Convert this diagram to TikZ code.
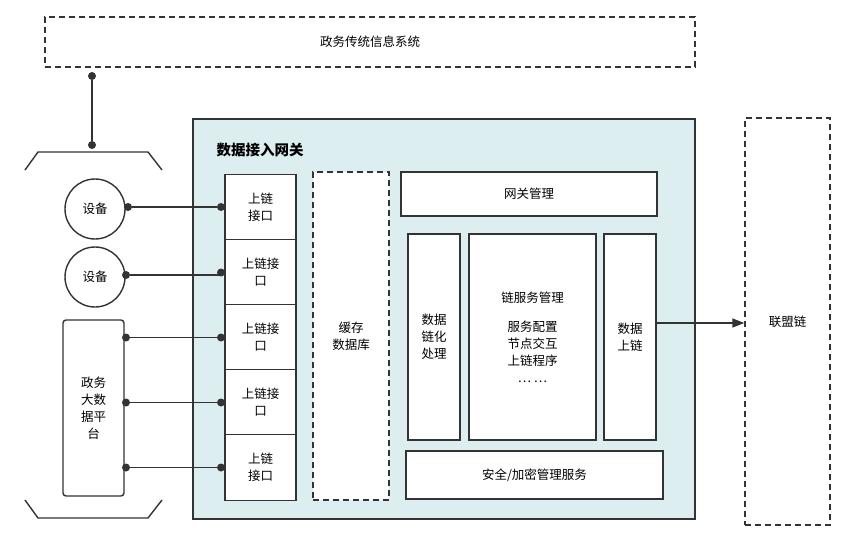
\documentclass[tikz,border=0pt]{standalone}
\usepackage{fontspec}
\setmainfont{Noto Sans CJK SC}
\usetikzlibrary{arrows.meta}
\definecolor{gwfill}{RGB}{221,238,240}
\begin{document}
\begin{tikzpicture}[x=1pt,y=-1pt,
 line/.style={draw=black!80,line width=1.4pt},
 box/.style={draw=black!80,line width=1.4pt,fill=white,align=center,font=\fontsize{12.5}{17}\selectfont,inner sep=0pt},
 dbox/.style={draw=black!80,line width=1.4pt,dash pattern=on 6pt off 4pt,align=center,font=\fontsize{12.5}{17}\selectfont},
 dotc/.style={circle,fill=black!80,inner sep=0pt,minimum size=8pt}]
\fill[white] (0,0) rectangle (854,551);
\node[dbox,minimum width=650,minimum height=50] (sys) at (370,42) {政务传统信息系统};
\node[dotc] (d1) at (92,76) {}; \node[dotc] (d2) at (92,145) {};
\draw[line] (d1) -- (d2);
\draw[line] (25,170) -- (38,152) -- (148,152) -- (162,170);
\draw[line] (25,500) -- (38,518) -- (148,518) -- (162,500);
\node[box,circle,minimum size=60] (c1) at (95,209) {设备};
\node[box,circle,minimum size=60] (c2) at (95,277) {设备};
\node[box,rounded corners=3pt,minimum width=61,minimum height=176] (pf) at (93.5,408) {政务\\大数\\据平\\台};
\node[draw=black!80,line width=1.4pt,fill=gwfill,minimum width=502,minimum height=400] (gw) at (444,319) {};
\node[font=\fontsize{14.5}{17}\selectfont\bfseries] (title) at (260,150) {数据接入网关};
\foreach \i/\y/\t in {1/207/{上链\\接口},2/272.5/{上链接\\口},3/337.5/{上链接\\口},4/402.5/{上链接\\口},5/467.5/{上链\\接口}}{
 \node[box,minimum width=71,minimum height=65.5] (p\i) at (260.5,\y) {\t};
 \node[dotc] (q\i) at (221,\y) {};
}
\node[dotc] (s1) at (128,207) {}; \node[dotc] (s2) at (126,275) {};
\node[dotc] (s3) at (126,337.5) {}; \node[dotc] (s4) at (126,402.5) {}; \node[dotc] (s5) at (126,467.5) {};
\draw[line] (s1) -- (q1); \draw[line] (s2) -- (q2|-s2);
\draw[line] (s3) -- (q3); \draw[line] (s4) -- (q4); \draw[line] (s5) -- (q5);
\node[dbox,fill=white,minimum width=76,minimum height=328] (db) at (351,336) {缓存\\数据库};
\node[box,minimum width=256,minimum height=44] (gm) at (529,194) {网关管理};
\node[box,minimum width=52,minimum height=206] (lh) at (434,337) {数据\\链化\\处理};
\node[box,minimum width=127,minimum height=206] (ls) at (532.5,337) {链服务管理\\[12pt]服务配置\\节点交互\\上链程序\\… …};
\node[box,minimum width=52,minimum height=206] (sl) at (630,337) {数据\\上链};
\node[box,minimum width=257,minimum height=48] (aq) at (534.5,475) {安全/加密管理服务};
\node[dbox,minimum width=85,minimum height=407] (lm) at (787.5,321.5) {联盟链};
\draw[line,-{Triangle[length=12pt,width=9pt]}] (sl.east|-0,323) -- (lm.west|-0,323);
\end{tikzpicture}
\end{document}
